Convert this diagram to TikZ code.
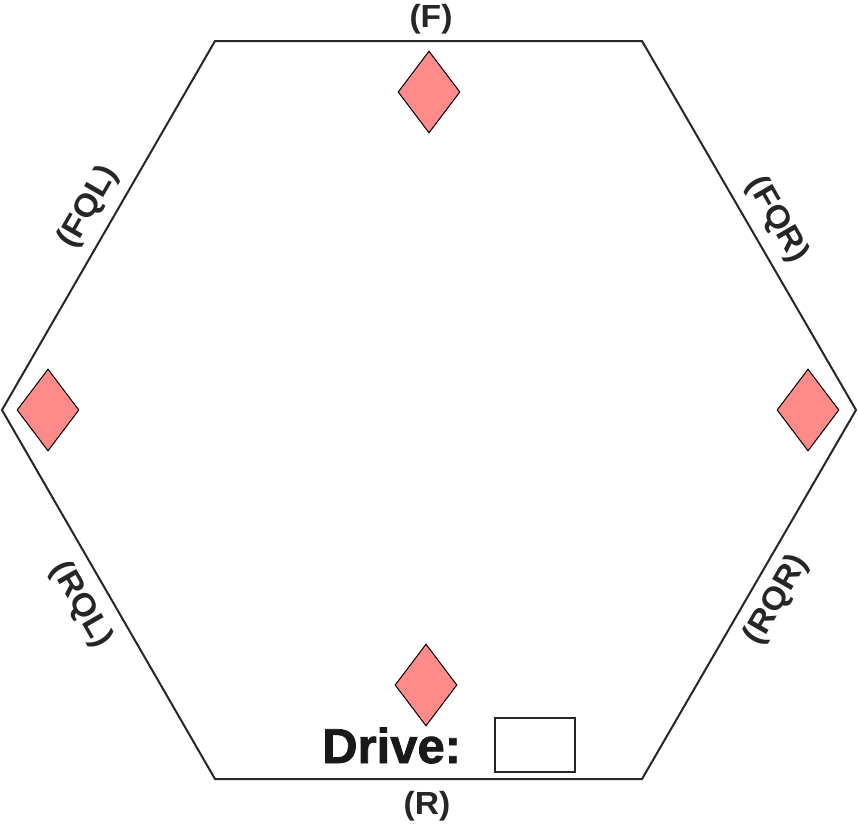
\documentclass[tikz,border=0pt]{standalone}
\usepackage{fontspec}
\usetikzlibrary{shapes.geometric}
\newfontfamily\labfont[FakeStretch=1.05]{Liberation Sans Bold}
\newfontfamily\drivefont[FakeBold=1.5]{Liberation Sans Bold}
\definecolor{dpink}{HTML}{FF8A8A}
\tikzset{
  hexline/.style={line width=2pt, draw=black!85},
  gem/.style={shape=diamond, draw=black, line width=1pt, fill=dpink, inner sep=0pt, minimum width=62pt, minimum height=82pt},
  lab/.style={font=\labfont\fontsize{32}{34}\selectfont, text=black!85, inner sep=0pt},
}
\begin{document}
\begin{tikzpicture}[x=1pt,y=-1pt]
\useasboundingbox (0,0) rectangle (858,825);
\coordinate (TL) at (215,41);
\coordinate (TR) at (642,41);
\coordinate (RR) at (856,410);
\coordinate (BR) at (642,779);
\coordinate (BL) at (215,779);
\coordinate (LL) at (2,410);
\draw[hexline, line join=miter] (TL) -- (TR) -- (RR) -- (BR) -- (BL) -- (LL) -- cycle;
\node[gem] (dF) at (429,92) {};
\node[gem] (dL) at (48,410) {};
\node[gem] (dR) at (808,410) {};
\node[gem] (dB) at (426,685) {};
\node[lab] (lF) at (431,19) {(F)};
\node[lab] (lR) at (427,806) {(R)};
\node[lab, rotate=60] (lFQL) at (89,207) {(FQL)};
\node[lab, rotate=-60] (lFQR) at (777,220) {(FQR)};
\node[lab, rotate=-60] (lRQL) at (81,605) {(RQL)};
\node[lab, rotate=60] (lRQR) at (777,600) {(RQR)};
\node[font=\drivefont\fontsize{49}{51}\selectfont, text=black!90, inner sep=0pt, anchor=base west] (drive) at (322,763) {Drive:};
\node[draw=black!85, line width=1.8pt, minimum width=80pt, minimum height=54pt, inner sep=0pt] (box) at (535,745) {};
\end{tikzpicture}
\end{document}
